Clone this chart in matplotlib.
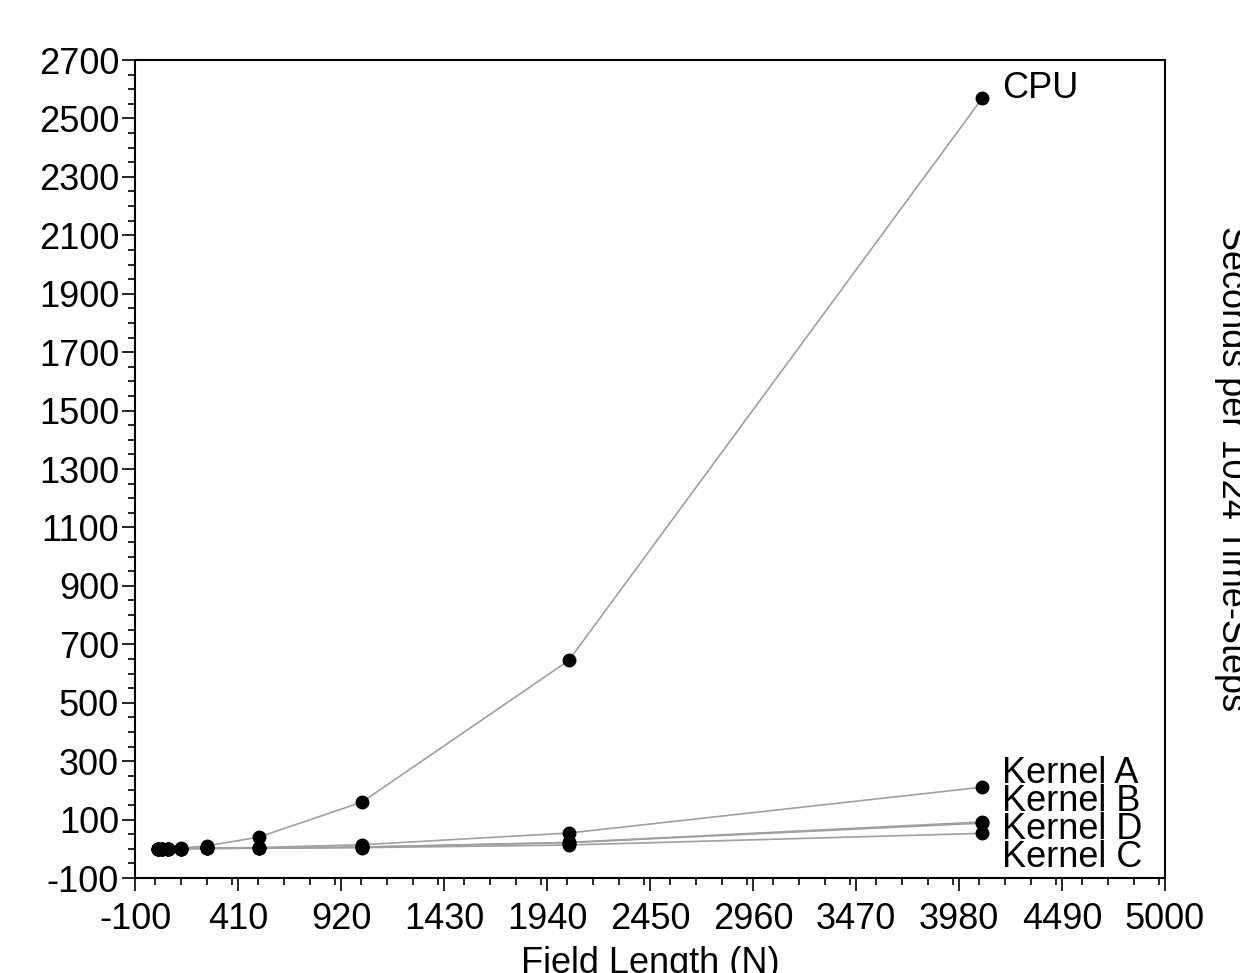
import matplotlib
matplotlib.use("Agg")
import matplotlib.pyplot as plt
from matplotlib.ticker import MultipleLocator

plt.rcParams['font.family'] = ['Liberation Sans', 'DejaVu Sans']
plt.rcParams['axes.unicode_minus'] = False

# field lengths and seconds per 1024 time-steps
field_len = [16, 32, 64, 128, 256, 512, 1024, 2048, 4096]
cpu      = [0.04, 0.16, 0.63, 2.5, 10, 40, 160, 645, 2570]
kernel_a = [0.2, 0.3, 0.5, 0.9, 2.0, 4.5, 14, 54, 211]
kernel_b = [0.3, 0.4, 0.6, 0.8, 1.5, 2.5, 6, 22, 92]
kernel_d = [0.3, 0.4, 0.6, 0.8, 1.5, 2.5, 6, 21, 88]
kernel_c = [0.3, 0.4, 0.5, 0.7, 1.2, 2.0, 4, 13, 53]

series = [("CPU", cpu), ("Kernel A", kernel_a), ("Kernel B", kernel_b),
          ("Kernel D", kernel_d), ("Kernel C", kernel_c)]

fig = plt.figure(figsize=(12.4, 9.73), dpi=100)
ax = fig.add_axes([0.1089, 0.0976, 0.8306, 0.8407])

for name, vals in series:
    ax.plot(field_len, vals, color='#a0a0a0', lw=1.2, zorder=2)
    ax.plot(field_len, vals, 'o', color='black', ms=9, zorder=3)

# end labels
ax.annotate("CPU", (field_len[-1], cpu[-1]), xytext=(20, 10),
            textcoords='offset pixels', fontsize=26, va='center', ha='left')
for i, (name, vals) in enumerate(series[1:]):
    ax.annotate(name, (field_len[-1], kernel_a[-1]), xytext=(20, 14 - 28 * i),
                textcoords='offset pixels', fontsize=26, va='center', ha='left',
                linespacing=0.9)

ax.set_xlim(-100, 5000)
ax.set_ylim(-100, 2700)
ax.set_xticks(range(-100, 5001, 510))
ax.set_yticks(range(-100, 2701, 200))
ax.xaxis.set_minor_locator(MultipleLocator(127.5))
ax.yaxis.set_minor_locator(MultipleLocator(50))
ax.tick_params(which='major', direction='out', length=9.5, width=1.2,
               labelsize=26, top=False, right=False)
ax.tick_params(which='minor', direction='out', length=5, width=1.2,
               top=False, right=False)
ax.tick_params(axis='x', which='major', pad=8)
ax.tick_params(axis='y', which='major', pad=2)
for sp in ax.spines.values():
    sp.set_linewidth(1.5)

ax.set_xlabel("Field Length (N)", fontsize=26, labelpad=6)
fig.text(0.993, 0.518, "Seconds per 1024 Time-Steps", rotation=270,
         fontsize=26, ha='center', va='center')

fig.savefig("out.png", dpi=100)
